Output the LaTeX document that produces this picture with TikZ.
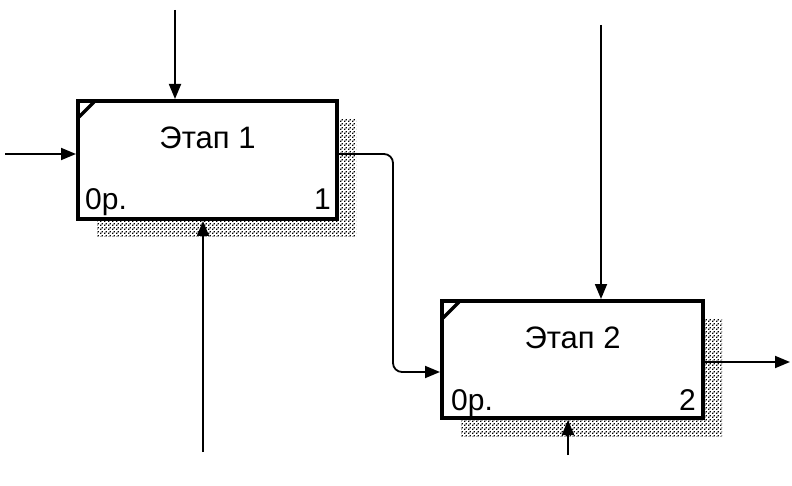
\documentclass[tikz,border=0pt]{standalone}
\usepackage{fontspec}
\setmainfont{Liberation Sans}
\usetikzlibrary{arrows.meta,patterns,shadows,calc,positioning}

% checker of dots for the shadows
\pgfdeclarepatternformonly{shadowdots}{\pgfpointorigin}{\pgfpoint{4pt}{4pt}}{\pgfpoint{4pt}{4pt}}{
  \pgfpathrectangle{\pgfpointorigin}{\pgfpoint{1.6pt}{1.6pt}}
  \pgfpathrectangle{\pgfpoint{2pt}{2pt}}{\pgfpoint{1.6pt}{1.6pt}}
  \pgfusepath{fill}
}

\begin{document}
\begin{tikzpicture}[
    x=1pt, y=-1pt,
    stage/.style={draw, line width=4pt, fill=white, inner sep=0pt,
        minimum width=259pt, minimum height=118pt,
        general shadow={pattern=shadowdots, shadow xshift=19pt, shadow yshift=-18pt}},
    stagetitle/.style={font=\fontsize{31}{36}\selectfont},
    costlabel/.style={font=\fontsize{30}{34}\selectfont, inner sep=0pt},
    arr/.style={line width=1.8pt, -{Triangle[length=15pt,width=12pt]}}
]
\useasboundingbox (0,0) rectangle (792,486);

% Stages
\node [stage] (e1) at (207.5,160) {};
\node [stage, minimum width=261pt, minimum height=117pt] (e2) at (572.5,359.5) {};

% Corner marks
\draw [line width=3.5pt] ([xshift=3pt,yshift=-18pt]e1.north west) -- ([xshift=18pt,yshift=-3pt]e1.north west);
\draw [line width=3.5pt] ([xshift=3pt,yshift=-19pt]e2.north west) -- ([xshift=19pt,yshift=-3pt]e2.north west);

% Titles and labels
\node [stagetitle] (t1) at ($(e1.north)+(0,39)$) {Этап 1};
\node [stagetitle] (t2) at ($(e2.north)+(0,39)$) {Этап 2};
\node [costlabel, anchor=base west] (c1) at ($(e1.south west)+(9,-11)$) {0р.};
\node [costlabel, anchor=base east] (n1) at ($(e1.south east)+(-8,-11)$) {1};
\node [costlabel, anchor=base west] (c2) at ($(e2.south west)+(11,-10)$) {0р.};
\node [costlabel, anchor=base east] (n2) at ($(e2.south east)+(-9,-10)$) {2};

% Free ends
\coordinate (ctl1) at (175,10);
\coordinate (in1) at (5,154);
\coordinate (mech1) at (203,452);
\coordinate (bend) at (393,260);
\coordinate (ctl2) at (601,25);
\coordinate (mech2) at (568,455);
\coordinate (out2) at (790,362);

% Arrows
\draw [arr] (ctl1) -- (ctl1 |- e1.north);
\draw [arr] (in1) -- (in1 -| e1.west);
\draw [arr] (mech1) -- (mech1 |- e1.south);
\draw [arr, rounded corners=9pt] ([yshift=6pt]e1.east) -| (bend) |- ([yshift=-12.5pt]e2.west);
\draw [arr] (ctl2) -- (ctl2 |- e2.north);
\draw [arr] (mech2) -- (mech2 |- e2.south);
\draw [arr] (out2 -| e2.east) -- (out2);

\end{tikzpicture}
\end{document}
